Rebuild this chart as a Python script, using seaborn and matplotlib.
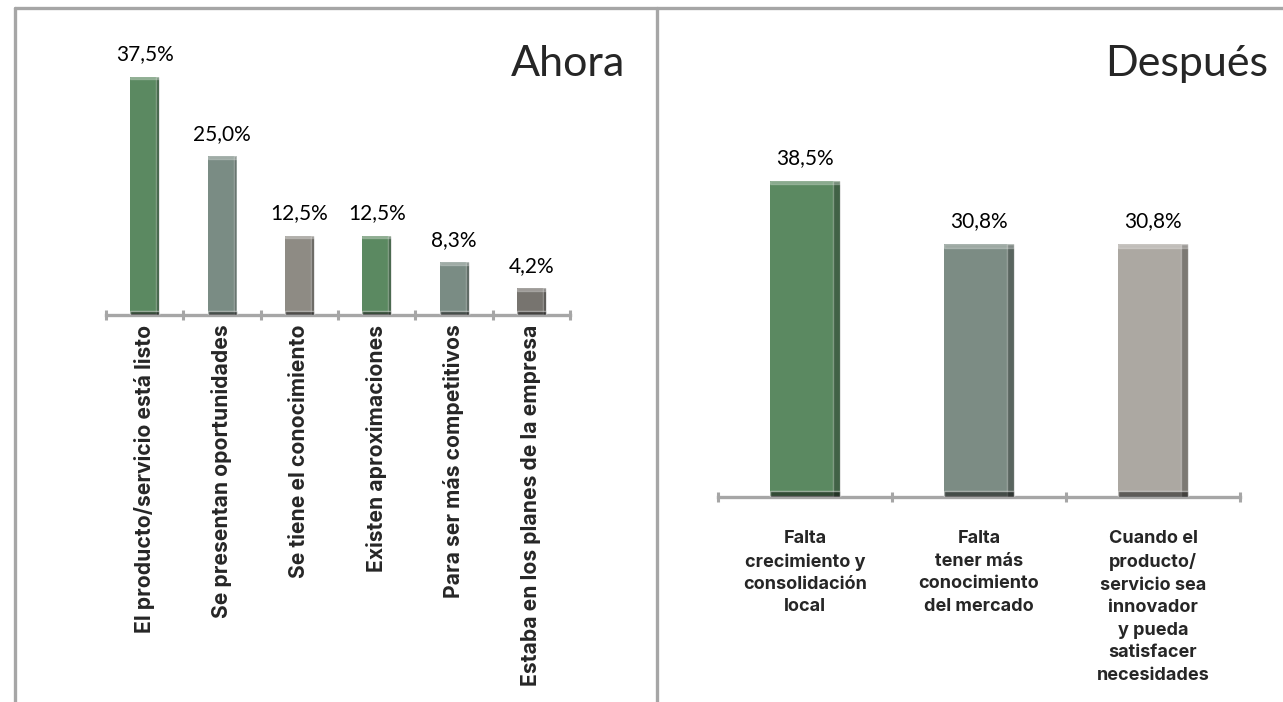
import numpy as np
import pandas as pd
import matplotlib
matplotlib.use('Agg')
import matplotlib.pyplot as plt
from matplotlib.lines import Line2D
import seaborn as sns

# data
ahora_labels = ['El producto/servicio está listo', 'Se presentan oportunidades',
                'Se tiene el conocimiento', 'Existen aproximaciones',
                'Para ser más competitivos', 'Estaba en los planes de la empresa']
ahora_values = [37.5, 25.0, 12.5, 12.5, 8.3, 4.2]

despues_labels = ['Falta\ncrecimiento y\nconsolidación\nlocal',
                  'Falta\ntener más\nconocimiento\ndel mercado',
                  'Cuando el\nproducto/\nservicio sea\ninnovador\ny pueda\nsatisfacer\nnecesidades']
despues_values = [38.5, 30.8, 30.8]

ahora_colors = ['#5b8961', '#7a8c84', '#8e8b84', '#5b8961', '#7a8c84', '#77746f']
despues_colors = ['#5b8961', '#7c8c84', '#aca8a2']

sns.set_theme(style='white')
plt.rcParams['font.family'] = ['Lato', 'DejaVu Sans']

W, H = 1283, 702
fig = plt.figure(figsize=(W / 100, H / 100), dpi=100)
grey = '#a6a6a6'

# panel frame
fig.add_artist(Line2D([15 / W, 1], [1 - 8 / H, 1 - 8 / H], transform=fig.transFigure, color=grey, lw=2.4))
fig.add_artist(Line2D([15 / W, 15 / W], [0, 1 - 8 / H], transform=fig.transFigure, color=grey, lw=2.4))
fig.add_artist(Line2D([657 / W, 657 / W], [0, 1 - 8 / H], transform=fig.transFigure, color=grey, lw=2.4))


def draw(ax, labels, values, colors, width, ymax, rot):
    df = pd.DataFrame({'cat': labels, 'val': values})
    sns.barplot(data=df, x='cat', y='val', hue='cat', palette=colors, width=width,
                legend=False, ax=ax, saturation=1, edgecolor='none')
    n = len(ax.patches)
    # darker right edge, light top and dark base for the bevel look
    for p in ax.patches[:n]:
        x0, w, h = p.get_x(), p.get_width(), p.get_height()
        ax.bar(x0 + w * 0.95, h, width=w * 0.10, color='black', alpha=0.28, zorder=3)
        ax.bar(x0 + w / 2, ymax * 0.008, bottom=h - ymax * 0.008, width=w, color='white', alpha=0.25, zorder=3)
        ax.bar(x0 + w / 2, ymax * 0.012, width=w, color='black', alpha=0.45, zorder=3)
    for c in ax.containers[:len(labels)]:
        ax.bar_label(c, labels=[f'{v:.1f}%'.replace('.', ',') for v in c.datavalues],
                     padding=9, fontsize=15, color='black')
    ax.set_ylim(0, ymax)
    ax.set_xlim(-0.5, len(labels) - 0.5)
    ax.set_xlabel('')
    ax.set_ylabel('')
    ax.set_yticks([])
    for s in ['top', 'right', 'left']:
        ax.spines[s].set_visible(False)
    ax.spines['bottom'].set_color(grey)
    ax.spines['bottom'].set_linewidth(2.4)
    ax.set_xticks(np.arange(len(labels) + 1) - 0.5, minor=True)
    ax.tick_params(axis='x', which='minor', length=7, width=2.2, color=grey, direction='inout', bottom=True)
    ax.set_xticks(range(len(labels)))
    if rot:
        ax.tick_params(axis='x', which='major', length=0, pad=7)
        ax.set_xticklabels(labels, rotation=90, va='top', ha='center', fontsize=15.2,
                           fontweight='bold', family=['Inter', 'DejaVu Sans'])
    else:
        ax.tick_params(axis='x', which='major', length=0, pad=24)
        ax.set_xticklabels(labels, fontsize=13, fontweight='bold', linespacing=1.42,
                           family=['Inter', 'DejaVu Sans'])


ax1 = fig.add_axes([106 / W, (H - 315) / H, 464 / W, 295 / H])
draw(ax1, ahora_labels, ahora_values, ahora_colors, 0.375, 295 / 6.35, True)

ax2 = fig.add_axes([718 / W, (H - 497) / H, 522 / W, 477 / H])
draw(ax2, despues_labels, despues_values, despues_colors, 0.40, 477 / 8.22, False)

fig.text(625 / W, 1 - 76 / H, 'Ahora', ha='right', va='baseline', fontsize=31)
fig.text(1268 / W, 1 - 76 / H, 'Después', ha='right', va='baseline', fontsize=31)

fig.savefig('out.png', dpi=100)
